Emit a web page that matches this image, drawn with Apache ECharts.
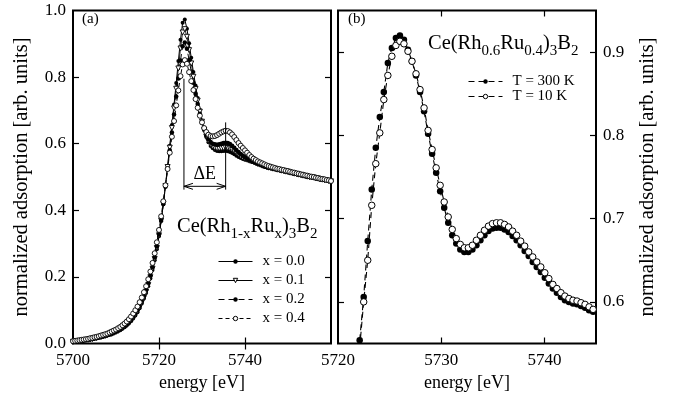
<!DOCTYPE html>
<html>
<head>
<meta charset="utf-8">
<script src="https://cdn.jsdelivr.net/npm/echarts@6/dist/echarts.min.js"></script>
<style>
  html, body { margin: 0; padding: 0; background: #fff; }
  #chart { width: 673px; height: 405px; }
</style>
</head>
<body>
<div id="chart"></div>
<script>
// ---- Panel (a): Ce L3-edge absorption of Ce(Rh1-xRux)3B2 ----
const energyA = [
  5700, 5700.5, 5701, 5701.5, 5702, 5702.5, 5703, 5703.5, 5704, 5704.5,
  5705, 5705.5, 5706, 5706.5, 5707, 5707.5, 5708, 5708.5, 5709, 5709.5,
  5710, 5710.5, 5711, 5711.5, 5712, 5712.5, 5713, 5713.5, 5714, 5714.5,
  5715, 5715.5, 5716, 5716.5, 5717, 5717.5, 5718, 5718.5, 5719, 5719.5,
  5720, 5720.5, 5721, 5721.5, 5722, 5722.5, 5723, 5723.5, 5724, 5724.5,
  5725, 5725.5, 5726, 5726.5, 5727, 5727.5, 5728, 5728.5, 5729, 5729.5,
  5730, 5730.5, 5731, 5731.5, 5732, 5732.5, 5733, 5733.5, 5734, 5734.5,
  5735, 5735.5, 5736, 5736.5, 5737, 5737.5, 5738, 5738.5, 5739, 5739.5,
  5740, 5740.5, 5741, 5741.5, 5742, 5742.5, 5743, 5743.5, 5744, 5744.5,
  5745, 5745.5, 5746, 5746.5, 5747, 5747.5, 5748, 5748.5, 5749, 5749.5,
  5750, 5750.5, 5751, 5751.5, 5752, 5752.5, 5753, 5753.5, 5754, 5754.5,
  5755, 5755.5, 5756, 5756.5, 5757, 5757.5, 5758, 5758.5, 5759, 5759.5,
  5760
];
const absX00 = [
  .004, .005, .006, .007, .008, .009, .010, .011, .012, .013,
  .014, .016, .017, .019, .020, .022, .024, .026, .028, .031,
  .034, .037, .040, .044, .049, .054, .060, .067, .075, .084,
  .094, .106, .120, .135, .152, .172, .195, .221, .250, .283,
  .322, .367, .418, .474, .533, .594, .656, .718, .782, .848,
  .912, .963, .973, .945, .902, .858, .815, .775, .737, .702,
  .670, .642, .620, .604, .593, .586, .581, .578, .577, .577,
  .578, .578, .577, .575, .572, .568, .564, .560, .557, .554,
  .552, .550, .548, .546, .544, .541, .538, .536, .533, .531,
  .529, .527, .526, .524, .523, .521, .520, .518, .517, .515,
  .514, .512, .511, .509, .508, .506, .505, .503, .502, .500,
  .499, .498, .497, .495, .494, .492, .491, .490, .489, .487,
  .486
];
const absX01 = [
  .005, .006, .006, .007, .008, .009, .010, .011, .012, .013,
  .015, .016, .018, .019, .021, .023, .025, .027, .029, .032,
  .035, .038, .042, .046, .051, .056, .062, .069, .077, .086,
  .097, .109, .123, .138, .156, .176, .199, .225, .254, .287,
  .325, .369, .419, .473, .530, .588, .647, .706, .765, .826,
  .886, .934, .944, .921, .881, .841, .801, .764, .729, .696,
  .666, .641, .621, .607, .597, .591, .587, .585, .585, .586,
  .587, .588, .587, .585, .581, .577, .572, .567, .562, .558,
  .555, .552, .549, .547, .545, .542, .539, .537, .534, .532,
  .530, .528, .527, .525, .524, .522, .521, .519, .518, .516,
  .515, .513, .512, .510, .509, .507, .506, .504, .503, .501,
  .500, .499, .498, .496, .495, .493, .492, .491, .490, .488,
  .487
];
const absX02 = [
  .005, .006, .007, .008, .009, .010, .011, .012, .013, .014,
  .016, .017, .019, .020, .022, .024, .026, .028, .031, .034,
  .037, .040, .044, .048, .053, .058, .064, .071, .080, .089,
  .100, .112, .126, .142, .160, .180, .203, .229, .258, .291,
  .328, .371, .419, .471, .525, .580, .634, .688, .742, .796,
  .850, .893, .904, .885, .851, .817, .783, .750, .719, .690,
  .664, .642, .625, .613, .605, .600, .598, .597, .598, .600,
  .602, .603, .602, .599, .594, .588, .581, .575, .569, .564,
  .559, .555, .552, .549, .546, .543, .540, .538, .535, .532,
  .530, .528, .527, .525, .524, .522, .521, .519, .518, .516,
  .515, .513, .512, .510, .509, .507, .506, .504, .503, .501,
  .500, .499, .498, .496, .495, .493, .492, .491, .490, .488,
  .487
];
const absX04 = [
  .007, .008, .009, .010, .011, .012, .013, .014, .016, .017,
  .019, .020, .022, .024, .026, .028, .030, .033, .036, .039,
  .042, .046, .050, .055, .060, .066, .073, .081, .090, .100,
  .111, .124, .138, .154, .172, .193, .216, .242, .271, .304,
  .341, .382, .427, .475, .524, .573, .621, .668, .715, .760,
  .803, .838, .851, .840, .815, .788, .761, .734, .708, .684,
  .664, .647, .635, .627, .623, .622, .623, .626, .630, .634,
  .637, .639, .638, .634, .628, .620, .611, .602, .594, .587,
  .580, .573, .566, .560, .555, .551, .547, .544, .541, .538,
  .535, .533, .531, .529, .527, .525, .524, .522, .521, .519,
  .518, .516, .514, .513, .511, .510, .508, .507, .505, .504,
  .502, .501, .500, .498, .497, .495, .494, .493, .491, .490,
  .488
];
const namesA = ['x = 0.0', 'x = 0.1', 'x = 0.2', 'x = 0.4'];

// ---- Panel (b): Ce(Rh0.6Ru0.4)3B2 at 300 K and 10 K ----
const energyB = [
  5722.10, 5722.49, 5722.88, 5723.27, 5723.66, 5724.05, 5724.44, 5724.83, 5725.22, 5725.61,
  5726.00, 5726.39, 5726.78, 5727.17, 5727.56, 5727.95, 5728.34, 5728.73, 5729.12, 5729.51,
  5729.90, 5730.29, 5730.68, 5731.07, 5731.46, 5731.85, 5732.24, 5732.63, 5733.02, 5733.41,
  5733.80, 5734.19, 5734.58, 5734.97, 5735.36, 5735.75, 5736.14, 5736.53, 5736.92, 5737.31,
  5737.70, 5738.09, 5738.48, 5738.87, 5739.26, 5739.65, 5740.04, 5740.43, 5740.82, 5741.21,
  5741.60, 5741.99, 5742.38, 5742.77, 5743.16, 5743.55, 5743.94, 5744.33, 5744.72
];
const absT300 = [
  .554, .606, .673, .735, .785, .822, .852, .887, .905, .917,
  .920, .915, .903, .889, .872, .852, .829, .802, .778, .755,
  .733, .713, .695, .680, .670, .663, .660, .660, .663, .668,
  .674, .680, .685, .688, .689, .689, .687, .684, .679, .674,
  .668, .661, .655, .648, .642, .636, .629, .622, .616, .611,
  .606, .602, .600, .598, .597, .595, .593, .590, .588
];
const absT10 = [
  .545, .600, .650, .716, .766, .803, .843, .872, .895, .908,
  .913, .910, .901, .889, .874, .855, .833, .806, .783, .761,
  .740, .720, .702, .687, .676, .669, .665, .665, .668, .674,
  .680, .686, .691, .694, .695, .695, .693, .690, .685, .680,
  .673, .667, .660, .654, .648, .642, .635, .628, .621, .616,
  .611, .607, .604, .602, .601, .599, .597, .594, .591
];
const namesB = ['T = 300 K', 'T = 10 K'];

// ---- axis ticks ----
const ticksAX = [5700, 5720, 5740];
const ticksAY = [0, 0.2, 0.4, 0.6, 0.8, 1.0];
const ticksBX = [5720, 5730, 5740];
const ticksBY = [0.6, 0.7, 0.8, 0.9];

// ΔE: main white line and satellite peak positions [eV]
const deltaE = [5725.8, 5735.5];

const SERIF = 'Liberation Serif';
const pairs = (xs, ys) => xs.map((x, i) => [x, ys[i]]);

const tickStyle = { show: true, inside: true, length: 6, lineStyle: { color: '#000', width: 1.2 } };
const labelStyle = { color: '#000', fontFamily: SERIF, fontSize: 17 };
const nameStyle = { color: '#000', fontFamily: SERIF, fontSize: 18 };

function xAx(gridIndex, min, max, pos, labels, ticks, name) {
  return {
    type: 'value', gridIndex, min, max, position: pos,
    axisLine: { show: false }, splitLine: { show: false },
    axisTick: Object.assign({ customValues: ticks }, tickStyle),
    axisLabel: labels ? Object.assign({ show: true, customValues: labels, margin: 9,
      formatter: v => String(v) }, labelStyle) : { show: false },
    name: name || '', nameLocation: 'middle', nameGap: 30, nameTextStyle: nameStyle
  };
}
function yAx(gridIndex, min, max, pos, labels, ticks, name) {
  return {
    type: 'value', gridIndex, min, max, position: pos,
    axisLine: { show: false }, splitLine: { show: false },
    axisTick: Object.assign({ customValues: ticks }, tickStyle),
    axisLabel: labels ? Object.assign({ show: true, customValues: labels, margin: 7,
      formatter: v => v.toFixed(1) }, labelStyle) : { show: false },
    name: name || '', nameLocation: 'middle', nameGap: 41, nameRotate: 90,
    nameTextStyle: Object.assign({}, nameStyle, { fontSize: 20.5 })
  };
}

const seriesA = [
  { name: namesA[0], data: absX00, symbol: 'circle', symbolSize: 4,
    itemStyle: { color: '#000' }, lineStyle: { color: '#000', width: 1 } },
  { name: namesA[1], data: absX01, symbol: 'triangle', symbolRotate: 180, symbolSize: 5,
    itemStyle: { color: '#fff', borderColor: '#000', borderWidth: 0.9 }, lineStyle: { color: '#000', width: 0.8 } },
  { name: namesA[2], data: absX02, symbol: 'circle', symbolSize: 4.5,
    itemStyle: { color: '#000' }, lineStyle: { color: '#000', width: 1, type: [6, 4] } },
  { name: namesA[3], data: absX04, symbol: 'circle', symbolSize: 5,
    itemStyle: { color: '#fff', borderColor: '#000', borderWidth: 0.9 }, lineStyle: { color: '#000', width: 1, type: [4, 3] } }
].map(s => Object.assign({
  type: 'line', xAxisIndex: 0, yAxisIndex: 0, showSymbol: true, showAllSymbol: true,
  symbolKeepAspect: true
}, s, { data: pairs(energyA, s.data) }));

const seriesB = [
  { name: namesB[0], data: absT300, itemStyle: { color: '#000' } },
  { name: namesB[1], data: absT10, itemStyle: { color: '#fff', borderColor: '#000', borderWidth: 1 } }
].map(s => Object.assign({
  type: 'line', xAxisIndex: 2, yAxisIndex: 2, symbol: 'circle', symbolSize: 6.5,
  showAllSymbol: true, lineStyle: { color: '#000', width: 1.1, type: [6, 4] }
}, s, { data: pairs(energyB, s.data) }));

// double arrow with vertical markers for the ΔE splitting
const deltaSeries = {
  type: 'custom', xAxisIndex: 0, yAxisIndex: 0, silent: true, z: 5,
  data: [[deltaE[0], deltaE[1], 0.795, 0.664, 0.462, 0.472]],
  encode: { x: [0, 1], y: [2, 3] },
  renderItem(params, api) {
    const x1 = api.value(0), x2 = api.value(1);
    const t1 = api.coord([x1, api.value(2)]);
    const t2 = api.coord([x2, api.value(3)]);
    const b1 = api.coord([x1, api.value(4)]);
    const b2 = api.coord([x2, api.value(4)]);
    const ay = api.coord([x1, api.value(5)])[1];
    const st = { stroke: '#000', lineWidth: 1, fill: null };
    const L = 9, H = 3;
    return {
      type: 'group',
      children: [
        { type: 'line', shape: { x1: t1[0], y1: t1[1], x2: b1[0], y2: b1[1] }, style: st },
        { type: 'line', shape: { x1: t2[0], y1: t2[1], x2: b2[0], y2: b2[1] }, style: st },
        { type: 'line', shape: { x1: b1[0], y1: ay, x2: b2[0], y2: ay }, style: st },
        { type: 'polyline', shape: { points: [[b1[0] + L, ay - H], [b1[0], ay], [b1[0] + L, ay + H]] }, style: st },
        { type: 'polyline', shape: { points: [[b2[0] - L, ay - H], [b2[0], ay], [b2[0] - L, ay + H]] }, style: st },
        { type: 'text', x: (b1[0] + b2[0]) / 2, y: ay - 12,
          style: { text: 'ΔE', fontFamily: SERIF, fontSize: 18, fill: '#000', align: 'center', verticalAlign: 'middle' } }
      ]
    };
  }
};

const richFormula = {
  m: { fontFamily: SERIF, fontSize: 20.5, color: '#000' },
  s: { fontFamily: SERIF, fontSize: 15, color: '#000', padding: [16, 0, 0, 0] }
};

const legendCommon = {
  orient: 'vertical', padding: 0, itemWidth: 34, itemHeight: 5.5, selectedMode: false,
  lineStyle: { width: 1 }, itemStyle: { borderWidth: 1 },
  textStyle: { fontFamily: SERIF, fontSize: 15, color: '#000', lineHeight: 15, padding: [0, 0, 0, 5] }
};

const chart = echarts.init(document.getElementById('chart'), null, { renderer: 'canvas' });
chart.setOption({
  animation: false,
  backgroundColor: '#fff',
  grid: [
    { left: 73, top: 10.5, width: 258, height: 333, show: true, borderColor: '#000', borderWidth: 2, backgroundColor: 'transparent' },
    { left: 338, top: 10.5, width: 258, height: 333, show: true, borderColor: '#000', borderWidth: 2, backgroundColor: 'transparent' }
  ],
  xAxis: [
    xAx(0, 5700, 5760, 'bottom', ticksAX, [5720, 5740], 'energy [eV]'),
    xAx(0, 5700, 5760, 'top', null, [5720, 5740]),
    xAx(1, 5720, 5745, 'bottom', ticksBX, [5730, 5740], 'energy [eV]'),
    xAx(1, 5720, 5745, 'top', null, [5730, 5740])
  ],
  yAxis: [
    yAx(0, 0, 1, 'left', ticksAY, [0.2, 0.4, 0.6, 0.8], 'normalized adsorption [arb. units]'),
    yAx(0, 0, 1, 'right', null, [0.2, 0.4, 0.6, 0.8]),
    yAx(1, 0.55, 0.95, 'left', null, ticksBY),
    yAx(1, 0.55, 0.95, 'right', ticksBY, ticksBY, 'normalized adsorption [arb. units]')
  ],
  legend: [
    Object.assign({ data: namesA, left: 218, top: 254, itemGap: 4 }, legendCommon),
    Object.assign({ data: namesB, left: 468, top: 74, itemGap: 0 }, legendCommon)
  ],
  graphic: [
    { type: 'text', left: 82, top: 12, style: { text: '(a)', fontFamily: SERIF, fontSize: 15, fill: '#000' } },
    { type: 'text', left: 348, top: 12, style: { text: '(b)', fontFamily: SERIF, fontSize: 15, fill: '#000' } },
    { type: 'text', left: 177, top: 216,
      style: { text: '{m|Ce(Rh}{s|1-x}{m|Ru}{s|x}{m|)}{s|3}{m|B}{s|2}', rich: richFormula } },
    { type: 'text', left: 428, top: 33,
      style: { text: '{m|Ce(Rh}{s|0.6}{m|Ru}{s|0.4}{m|)}{s|3}{m|B}{s|2}', rich: richFormula } }
  ],
  series: [...seriesA, ...seriesB, deltaSeries]
});
</script>
</body>
</html>
